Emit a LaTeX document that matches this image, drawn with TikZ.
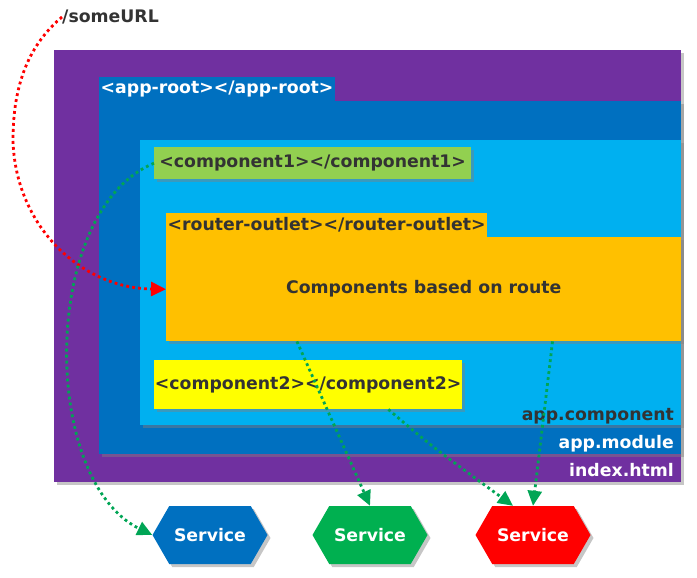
\documentclass[tikz,border=0pt]{standalone}
\usepackage{fontspec}
\setmainfont{DejaVu Sans}
\usepackage{tikz}
\usetikzlibrary{arrows.meta,shapes.symbols,positioning,shadows,calc}
\usepackage{xcolor}
\definecolor{ngpurple}{RGB}{112,48,160}
\definecolor{ngblue}{RGB}{0,112,192}
\definecolor{nglightblue}{RGB}{0,176,240}
\definecolor{nglime}{RGB}{146,208,80}
\definecolor{ngorange}{RGB}{255,192,0}
\definecolor{ngyellow}{RGB}{255,255,0}
\definecolor{nggreen}{RGB}{0,176,80}
\definecolor{ngred}{RGB}{255,0,0}
\definecolor{ngtext}{RGB}{51,51,51}
\definecolor{ngdots}{RGB}{0,165,85}
\tikzstyle{tag} = [font=\bfseries\fontsize{17.3}{19}\selectfont]
\tikzstyle{panel} = [rectangle, anchor=north west, inner sep=0pt, drop shadow={shadow xshift=3pt, shadow yshift=-3pt, opacity=0.45}]
\tikzstyle{tab} = [tag, rectangle, anchor=south west, inner xsep=1.5pt, inner ysep=0pt, minimum height=24pt]
\tikzstyle{service} = [tag, signal, signal to=east and west, signal pointer angle=120, minimum width=115pt, minimum height=58pt, text=white, drop shadow={shadow xshift=3pt, shadow yshift=-3pt, opacity=0.45}]
\tikzstyle{dots} = [line width=2.8pt, dash pattern=on 2.8pt off 3.2pt, -{Triangle[length=15pt,width=14pt]}]

\begin{document}
\begin{tikzpicture}[x=1pt, y=-1pt]
    \useasboundingbox (0,0) rectangle (697,578);

    % index.html
    \node[panel, fill=ngpurple, minimum width=627pt, minimum height=432pt] (index) at (54,50) {};
    \node[tag, text=white, anchor=base east] (indexlbl) at ([xshift=-4pt,yshift=6pt]index.south east) {index.html};

    % app.module
    \node[panel, fill=ngblue, minimum width=582pt, minimum height=353pt] (appmodule) at (99,101) {};
    \node[tab, fill=ngblue, text=white] (approot) at (appmodule.north west) {<app-root></app-root>};
    \node[tag, text=white, anchor=base east] (modulelbl) at ([xshift=-4pt,yshift=6pt]appmodule.south east) {app.module};

    % app.component
    \node[panel, fill=nglightblue, minimum width=541pt, minimum height=285pt] (appcomp) at (140,140) {};
    \node[tag, text=ngtext, anchor=base east] (complbl) at ([xshift=-4pt,yshift=5pt]appcomp.south east) {app.component};

    % component1
    \node[panel, fill=nglime, text=ngtext, tag, minimum width=317pt, minimum height=32pt] (comp1) at (154,147) {<component1></component1>};

    % router-outlet
    \node[panel, fill=ngorange, text=ngtext, tag, minimum width=515pt, minimum height=104pt] (router) at (166,237) {Components based on route};
    \node[tab, fill=ngorange, text=ngtext] (outlet) at (router.north west) {<router-outlet></router-outlet>};

    % component2
    \node[panel, fill=ngyellow, text=ngtext, tag, minimum width=308pt, minimum height=49pt] (comp2) at (154,360) {<component2></component2>};

    % URL
    \node[tag, text=ngtext, anchor=west, inner sep=0pt] (url) at (62,17) {/someURL};

    % Services
    \node[service, fill=ngblue] (svcblue) at (210,535) {Service};
    \node[service, fill=nggreen] (svcgreen) at (370,535) {Service};
    \node[service, fill=ngred] (svcred) at (533,535) {Service};

    % Arrows
    \draw[dots, ngred] (url.west) .. controls (35,40) and (13,75) .. (13,140) .. controls (15,225) and (80,288) .. (router.west);
    \draw[dots, ngdots] (comp1.west) .. controls (40,210) and (40,480) .. (svcblue.west);
    \draw[dots, ngdots] ($(router.south west)!0.254!(router.south east)$) -- (svcgreen.north);
    \draw[dots, ngdots] ($(comp2.south west)!0.76!(comp2.south east)$) .. controls (430,445) .. ([xshift=-20pt]svcred.north);
    \draw[dots, ngdots] ($(router.south west)!0.75!(router.south east)$) -- (svcred.north);
\end{tikzpicture}
\end{document}
